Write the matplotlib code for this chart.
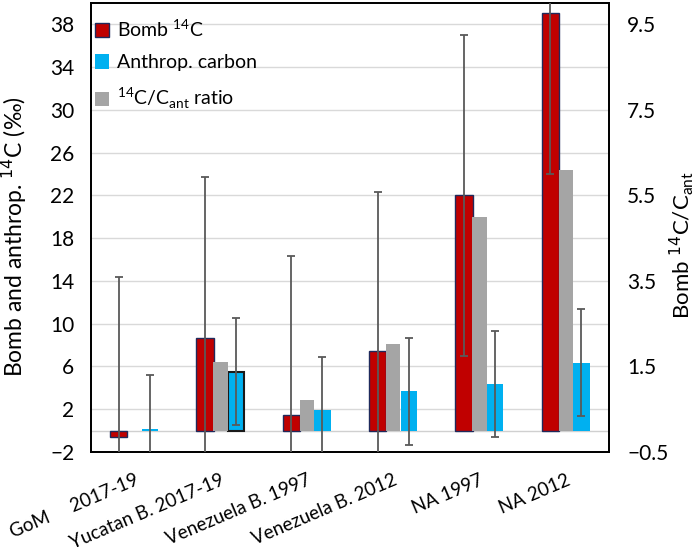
import numpy as np
import matplotlib
matplotlib.use("Agg")
import matplotlib.pyplot as plt
from matplotlib.patches import Patch

plt.rcParams['font.family'] = ['Lato', 'DejaVu Sans']

categories = ["GoM     2017-19", "Yucatan B. 2017-19", "Venezuela B. 1997",
              "Venezuela B. 2012", "NA 1997", "NA 2012"]
bomb_14c = [-0.6, 8.7, 1.45, 7.45, 22.0, 39.0]
bomb_err = [15.0, 15.0, 14.9, 14.9, 15.0, 15.0]
anthrop_c = [0.2, 5.5, 1.9, 3.7, 4.4, 6.35]
anthrop_err = [5.0, 5.0, 5.0, 5.0, 4.95, 5.0]
ratio = [np.nan, 1.6, 0.72, 2.02, 5.0, 6.1]

RED = "#C00000"
BLUE = "#00B0F0"
GRAY = "#A5A5A5"
NAVY = "#1F2A5C"
ERR = "#595959"

x = np.arange(len(categories))

fig = plt.figure(figsize=(7, 5.54), dpi=100)
ax = fig.add_axes([0.130, 0.184, 0.740, 0.811])
ax2 = ax.twinx()

ax.set_ylim(-2, 40)
ax2.set_ylim(-0.5, 10)
ax.set_xlim(-0.5, 5.5)

left_ticks = np.arange(-2, 39, 4)
right_ticks = np.arange(-0.5, 9.6, 2)
ax.set_yticks(left_ticks)
ax2.set_yticks(right_ticks)
ax.set_yticklabels([str(v).replace("-", "\u2212") for v in left_ticks])
ax2.set_yticklabels([("%.1f" % v).replace("-", "\u2212") for v in right_ticks])

for t in np.arange(2, 39, 4):
    ax.axhline(t, color="#D9D9D9", lw=1, zorder=0)
ax.axhline(0, color="#D0D0D0", lw=1, zorder=0.5)

blue_edges = ["none", "#1a1a1a", "none", "none", "none", "none"]
blue_lw = [0, 1.5, 0, 0, 0, 0]

ax.bar(x - 0.18, bomb_14c, width=0.2, color=RED, edgecolor=NAVY, linewidth=1, zorder=2)
ax.bar(x + 0.18, anthrop_c, width=0.19, color=BLUE, edgecolor=blue_edges,
       linewidth=blue_lw, zorder=2)
ax2.bar(x, ratio, width=0.165, color=GRAY, zorder=2)

# error bars drawn on top of the ratio bars (left values scaled to right axis)
ax2.errorbar(x - 0.18, np.array(bomb_14c) / 4, yerr=np.array(bomb_err) / 4, fmt="none",
             ecolor=ERR, elinewidth=1.3, capsize=3, capthick=1.3, zorder=3)
ax2.errorbar(x + 0.18, np.array(anthrop_c) / 4, yerr=np.array(anthrop_err) / 4, fmt="none",
             ecolor=ERR, elinewidth=1.3, capsize=3, capthick=1.3, zorder=3)

ax.set_xticks(x)
ax.set_xticklabels(categories, rotation=23, ha="right", rotation_mode="anchor", fontsize=13.5)
ax.tick_params(axis="x", length=0, pad=14)
ax.tick_params(axis="y", length=0, labelsize=15, pad=12)
ax2.tick_params(axis="y", length=0, labelsize=15, pad=13)

for a in (ax, ax2):
    for s in a.spines.values():
        s.set_linewidth(1.3)
        s.set_color("black")

ax.set_ylabel("Bomb and anthrop. $^{14}$C (‰)", fontsize=16.5)
ax2.set_ylabel("Bomb $^{14}$C/C$_{\\mathregular{ant}}$", fontsize=16)
ax.yaxis.set_label_coords(-0.12, 0.48)
ax2.yaxis.set_label_coords(1.112, 0.46)

handles = [Patch(facecolor=RED, edgecolor=NAVY, linewidth=1),
           Patch(facecolor=BLUE, edgecolor="none"),
           Patch(facecolor=GRAY, edgecolor="none")]
labels = ["Bomb $^{\\mathregular{14}}$C", "Anthrop. carbon",
          "$^{\\mathregular{14}}$C/C$_{\\mathregular{ant}}$ ratio"]
ax2.legend(handles, labels, loc="upper left", frameon=False, fontsize=14,
           handlelength=0.75, handleheight=0.75, handletextpad=0.4, labelspacing=0.75,
           borderaxespad=0.0, borderpad=0.2, bbox_to_anchor=(0.0, 0.975))

fig.savefig("out.png", dpi=100)
